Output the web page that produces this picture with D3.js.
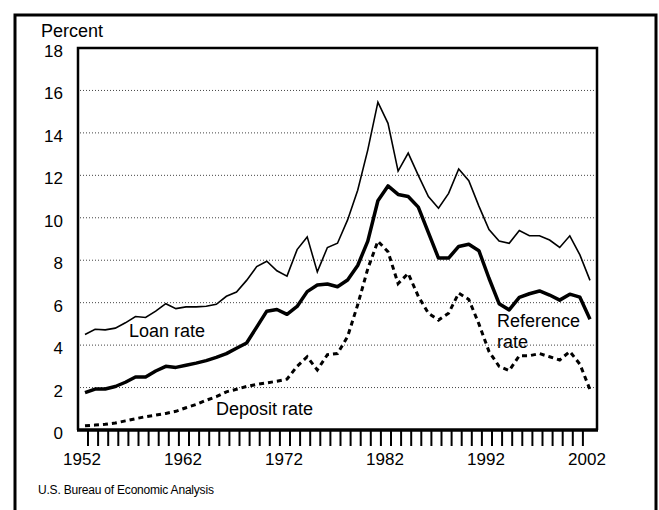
<!DOCTYPE html>
<html>
<head>
<meta charset="utf-8">
<script src="https://cdn.jsdelivr.net/npm/d3@7"></script>
<style>
  body { margin: 0; background: #fff; }
  svg { display: block; font-family: "Liberation Sans", Arial, sans-serif; }
</style>
</head>
<body>
<div id="chart"></div>
<script>
// years of the series, 1952 - 2002
let years = d3.range(1952, 2003);

let loanRate = [
  4.5, 4.75, 4.72, 4.8, 5.05, 5.35, 5.3, 5.6, 5.95, 5.72,
  5.8, 5.8, 5.83, 5.92, 6.3, 6.5, 7.05, 7.7, 7.95, 7.5,
  7.25, 8.5, 9.1, 7.45, 8.6, 8.8, 9.9, 11.3, 13.2, 15.45,
  14.45, 12.2, 13.05, 12.0, 11.0, 10.45, 11.15, 12.3, 11.75, 10.55,
  9.45, 8.9, 8.8, 9.4, 9.15, 9.15, 8.95, 8.6, 9.15, 8.25, 7.05
];

let referenceRate = [
  1.76, 1.93, 1.93, 2.05, 2.25, 2.5, 2.5, 2.78, 3.0, 2.95,
  3.05, 3.15, 3.27, 3.42, 3.6, 3.85, 4.1, 4.85, 5.6, 5.68,
  5.45, 5.82, 6.52, 6.83, 6.88, 6.75, 7.07, 7.75, 8.9, 10.8,
  11.5, 11.1, 11.0, 10.5, 9.3, 8.1, 8.1, 8.65, 8.75, 8.45,
  7.15, 5.95, 5.66, 6.25, 6.42, 6.55, 6.36, 6.12, 6.4, 6.26, 5.22
];

let depositRate = [
  0.2, 0.23, 0.27, 0.33, 0.43, 0.53, 0.63, 0.7, 0.78, 0.88,
  1.05, 1.2, 1.4, 1.57, 1.8, 1.92, 2.05, 2.15, 2.22, 2.3,
  2.4, 3.0, 3.45, 2.83, 3.55, 3.6, 4.4, 5.9, 7.6, 8.9,
  8.4, 6.9, 7.38, 6.3, 5.5, 5.18, 5.5, 6.45, 6.15, 5.0,
  3.7, 3.0, 2.8, 3.5, 3.5, 3.6, 3.45, 3.3, 3.7, 3.1, 1.9
];

let yTicks = [0, 2, 4, 6, 8, 10, 12, 14, 16, 18];
let yearLabels = [1952, 1962, 1972, 1982, 1992, 2002];
let tickYears = years.slice(0, 50);

let plot = { left: 78, right: 597, top: 48, bottom: 430 };

let svg = d3.select('#chart').append('svg').attr('width', 659).attr('height', 510);

let x = d3.scaleLinear().domain([1952, 2002]).range([85, 590]);
let y = d3.scaleLinear().domain([0, 18]).range([plot.bottom, plot.top]);

// outer frame (left, top, right sides)
svg.append('path')
  .attr('d', 'M15,510 V15 H656 V510')
  .attr('fill', 'none').attr('stroke', '#000').attr('stroke-width', 3);

// dotted gridlines
svg.append('g')
  .selectAll('line')
  .data(yTicks.filter(d => d > 0 && d < 18))
  .enter().append('line')
  .attr('x1', plot.left + 2).attr('x2', plot.right - 2)
  .attr('y1', d => y(d)).attr('y2', d => y(d))
  .attr('stroke', '#444').attr('stroke-width', 1).attr('stroke-dasharray', '1,2');

// plot box
svg.append('path')
  .attr('d', `M${plot.left},${plot.bottom} V${plot.top} H${plot.right} V${plot.bottom}`)
  .attr('fill', 'none').attr('stroke', '#000').attr('stroke-width', 2.5);
svg.append('line')
  .attr('x1', plot.left - 1).attr('x2', plot.right + 1)
  .attr('y1', plot.bottom).attr('y2', plot.bottom)
  .attr('stroke', '#000').attr('stroke-width', 3.5);

// year tick marks under the axis
svg.append('g').selectAll('line').data(tickYears).enter().append('line')
  .attr('x1', d => x(d) + 3).attr('x2', d => x(d) + 3)
  .attr('y1', plot.bottom).attr('y2', plot.bottom + 16)
  .attr('stroke', '#000').attr('stroke-width', 2);

// y labels
svg.append('g').selectAll('text').data(yTicks).enter().append('text')
  .attr('x', 63).attr('y', d => y(d) + 9)
  .attr('text-anchor', 'end')
  .style('font-size', '17px')
  .text(d => d);

// year labels
svg.append('g').selectAll('text').data(yearLabels).enter().append('text')
  .attr('x', d => x(d) - 3).attr('y', plot.bottom + 35)
  .attr('text-anchor', 'middle')
  .style('font-size', '17px')
  .text(d => d);

// series lines
let line = d3.line().x((d, i) => x(years[i])).y(d => y(d));

svg.append('path').datum(depositRate)
  .attr('d', line).attr('fill', 'none')
  .attr('stroke', '#000').attr('stroke-width', 3)
  .attr('stroke-dasharray', '5,4');

svg.append('path').datum(referenceRate)
  .attr('d', line).attr('fill', 'none')
  .attr('stroke', '#000').attr('stroke-width', 3.5)
  .attr('stroke-linejoin', 'round');

svg.append('path').datum(loanRate)
  .attr('d', line).attr('fill', 'none')
  .attr('stroke', '#000').attr('stroke-width', 1.6);

// labels in the plot
let labels = svg.append('g').style('font-size', '18px');
labels.append('text').attr('x', 129).attr('y', 337).text('Loan rate');
labels.append('text').attr('x', 216).attr('y', 415).text('Deposit rate');
labels.append('text').attr('x', 497).attr('y', 327).text('Reference');
labels.append('text').attr('x', 497).attr('y', 348).text('rate');

// unit label
svg.append('text').attr('x', 41).attr('y', 37)
  .style('font-size', '18px').text('Percent');

// source
svg.append('text').attr('x', 38).attr('y', 494)
  .style('font-size', '12px').style('letter-spacing', '-0.2px')
  .text('U.S. Bureau of Economic Analysis');
</script>
</body>
</html>
